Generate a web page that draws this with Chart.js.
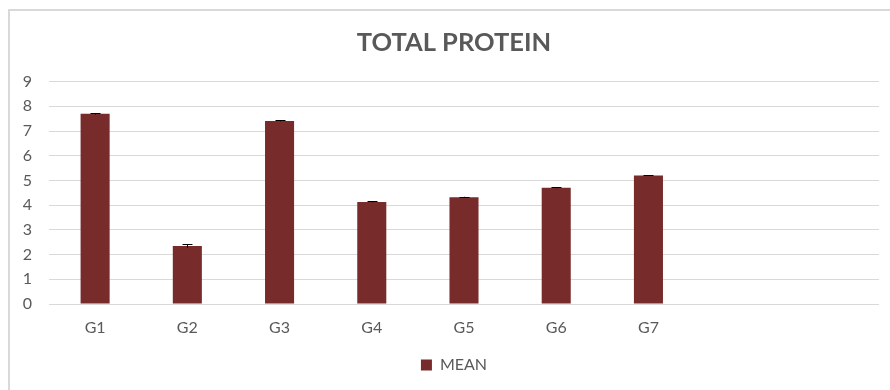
<!DOCTYPE html>
<html>
<head>
<meta charset="utf-8">
<script src="https://cdn.jsdelivr.net/npm/chart.js@4.4.1/dist/chart.umd.min.js"></script>
<style>
  html, body { margin: 0; padding: 0; background: #fff; }
  #wrap { position: relative; width: 890px; height: 390px; overflow: hidden; }
  #frame {
    position: absolute; left: 8px; top: 9px; width: 900px; height: 400px;
    border: 2px solid #d9d9d9; box-sizing: border-box; pointer-events: none;
  }
  canvas { position: absolute; left: 0; top: 0; }
</style>
</head>
<body>
<div id="wrap">
  <canvas id="proteinChart" width="890" height="390"></canvas>
  <div id="frame"></div>
</div>
<script>
// groups (two empty slots at the end of the category axis)
const groups = ["G1", "G2", "G3", "G4", "G5", "G6", "G7"];
const emptySlots = ["", ""];
const meanValues = [7.70, 2.35, 7.41, 4.13, 4.32, 4.70, 5.20];
const errValues = [0.03, 0.07, 0.02, 0.02, 0.02, 0.02, 0.02];
const yTicks = [0, 1, 2, 3, 4, 5, 6, 7, 8, 9];

const textGray = "#595959";
const gridGray = "#d9d9d9";
const barColor = "#772b2b";

Chart.defaults.font.family = "Lato, 'Open Sans', sans-serif";
Chart.defaults.font.size = 16;
Chart.defaults.color = textGray;

// small black whiskers on top of each bar
const errorBars = {
  id: "errorBars",
  afterDatasetsDraw(chart) {
    const meta = chart.getDatasetMeta(0);
    const y = chart.scales.y;
    const ctx = chart.ctx;
    ctx.save();
    ctx.strokeStyle = "#000";
    ctx.lineWidth = 1;
    meta.data.forEach((bar, i) => {
      const v = meanValues[i], e = errValues[i];
      const top = y.getPixelForValue(v + e);
      const bot = y.getPixelForValue(v - e);
      const x = Math.round(bar.x) + 0.5;
      ctx.beginPath();
      ctx.moveTo(x, top);
      ctx.lineTo(x, bot);
      ctx.moveTo(x - 5, Math.round(top) + 0.5);
      ctx.lineTo(x + 5, Math.round(top) + 0.5);
      ctx.stroke();
    });
    ctx.restore();
  }
};

// title and legend sit centred on the outer frame, a bit right of the canvas centre
const shiftBlocks = {
  id: "shiftBlocks",
  afterLayout(chart) {
    const dx = 14.5;
    [chart.titleBlock, chart.legend].forEach(b => {
      if (!b) return;
      b.left += dx;
      b.right += dx;
    });
  }
};

new Chart(document.getElementById("proteinChart"), {
  type: "bar",
  data: {
    labels: groups.concat(emptySlots),
    datasets: [{
      label: "MEAN",
      data: meanValues,
      backgroundColor: barColor,
      borderWidth: 0,
      categoryPercentage: 1,
      barPercentage: 0.315
    }]
  },
  options: {
    responsive: false,
    animation: false,
    layout: { padding: { left: 0, right: 11, top: 18, bottom: 7 } },
    plugins: {
      title: {
        display: true,
        text: "TOTAL PROTEIN",
        color: textGray,
        font: { size: 25.5, weight: "bold" },
        padding: { top: 9, bottom: 24 }
      },
      legend: {
        position: "bottom",
        labels: {
          boxWidth: 11,
          boxHeight: 11,
          padding: 6,
          color: textGray,
          font: { size: 16 }
        }
      },
      tooltip: { enabled: false }
    },
    scales: {
      x: {
        grid: { display: false },
        border: { display: false },
        ticks: { padding: 6, color: textGray },
        afterFit: s => { s.height = 47; }
      },
      y: {
        min: 0,
        max: 9,
        afterBuildTicks: s => { s.ticks = yTicks.map(v => ({ value: v })); },
        grid: { color: gridGray, lineWidth: 1, drawTicks: false },
        border: { display: false },
        ticks: { padding: 17, color: textGray },
        afterFit: s => { s.width = 49; }
      }
    }
  },
  plugins: [errorBars, shiftBlocks]
});
</script>
</body>
</html>
